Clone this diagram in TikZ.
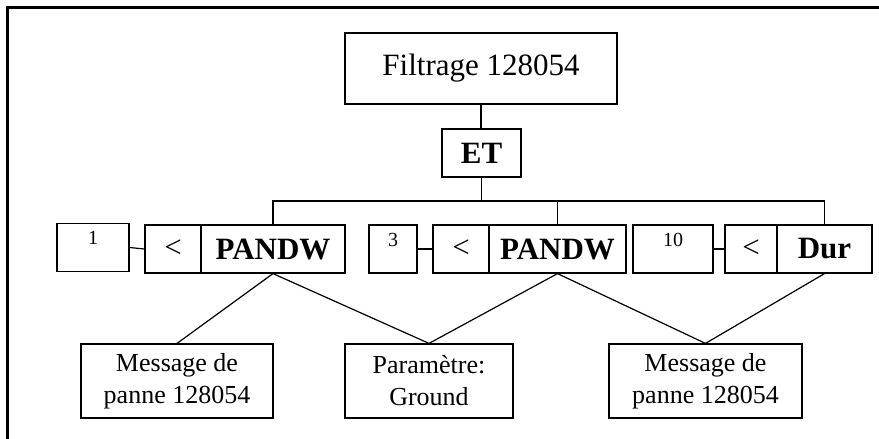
\documentclass[tikz,border=0pt]{standalone}
\usepackage{fontspec}
\setmainfont{Liberation Serif}
\usetikzlibrary{calc}
\tikzset{
  box/.style={draw, line width=1.2pt, inner sep=0pt, align=center},
  big/.style={box, font=\fontsize{31}{36}\selectfont},
  bigb/.style={box, font=\fontsize{31}{36}\selectfont\bfseries},
  numbox/.style={draw, line width=1.2pt, inner sep=0pt, font=\fontsize{20}{24}\selectfont, text height=21pt, text depth=27pt},
  leafbox/.style={box, font=\fontsize{26}{32}\selectfont, minimum height=74pt},
  link/.style={line width=1.2pt}
}
\begin{document}
\begin{tikzpicture}[x=1pt,y=-1pt]
\useasboundingbox (0,0) rectangle (879,439);
% outer frame (only top and left visible)
\draw[line width=2.2pt] (7.5,439) -- (7.5,7.5) -- (879,7.5);
% top nodes
\node[big, minimum width=272pt, minimum height=71pt] (F) at (481,68.5) {Filtrage 128054};
\node[bigb, minimum width=79pt, minimum height=48pt] (ET) at (481.5,153) {ET};
% row of operators
\node[numbox, minimum width=72pt] (n1) at (93,247.5) {1};
\node[big, minimum width=56pt, minimum height=48pt] (lt1) at (173,249) {<};
\node[bigb, minimum width=144pt, minimum height=48pt] (p1) at (273,249) {PANDW};
\node[numbox, minimum width=48pt] (n3) at (393,249) {3};
\node[big, minimum width=56pt, minimum height=48pt] (lt2) at (461,249) {<};
\node[bigb, minimum width=137pt, minimum height=48pt] (p2) at (557.5,249) {PANDW};
\node[numbox, minimum width=80pt] (n10) at (673,249) {10};
\node[big, minimum width=52pt, minimum height=48pt] (lt3) at (751,249) {<};
\node[bigb, minimum width=95pt, minimum height=48pt] (dur) at (824.5,249) {Dur};
% leaves
\node[leafbox, minimum width=192pt] (m1) at (177,381) {Message de\\panne 128054};
\node[leafbox, minimum width=168pt] (pa) at (429,381) {Paramètre:\\Ground};
\node[leafbox, minimum width=193pt] (m2) at (705.5,381) {Message de\\panne 128054};
% connectors
\coordinate (bar) at (0,201);
\draw[link] (F.south) -- (F.south |- ET.north);
\draw[link] (ET.south) -- (ET.south |- bar);
\draw[link] (p1.north) |- (dur.north |- bar) -- (dur.north);
\draw[link] (p2.north) -- (p2.north |- bar);
\draw[link] (n1.east) -- (lt1.west);
\draw[link] (n3.east) -- (lt2.west);
\draw[link] (n10.east) -- (lt3.west);
\draw[link] (p1.south) -- (m1.north);
\draw[link] (p1.south) -- (pa.north);
\draw[link] (p2.south) -- (pa.north);
\draw[link] (p2.south) -- (m2.north);
\draw[link] (dur.south) -- (m2.north);
\end{tikzpicture}
\end{document}
